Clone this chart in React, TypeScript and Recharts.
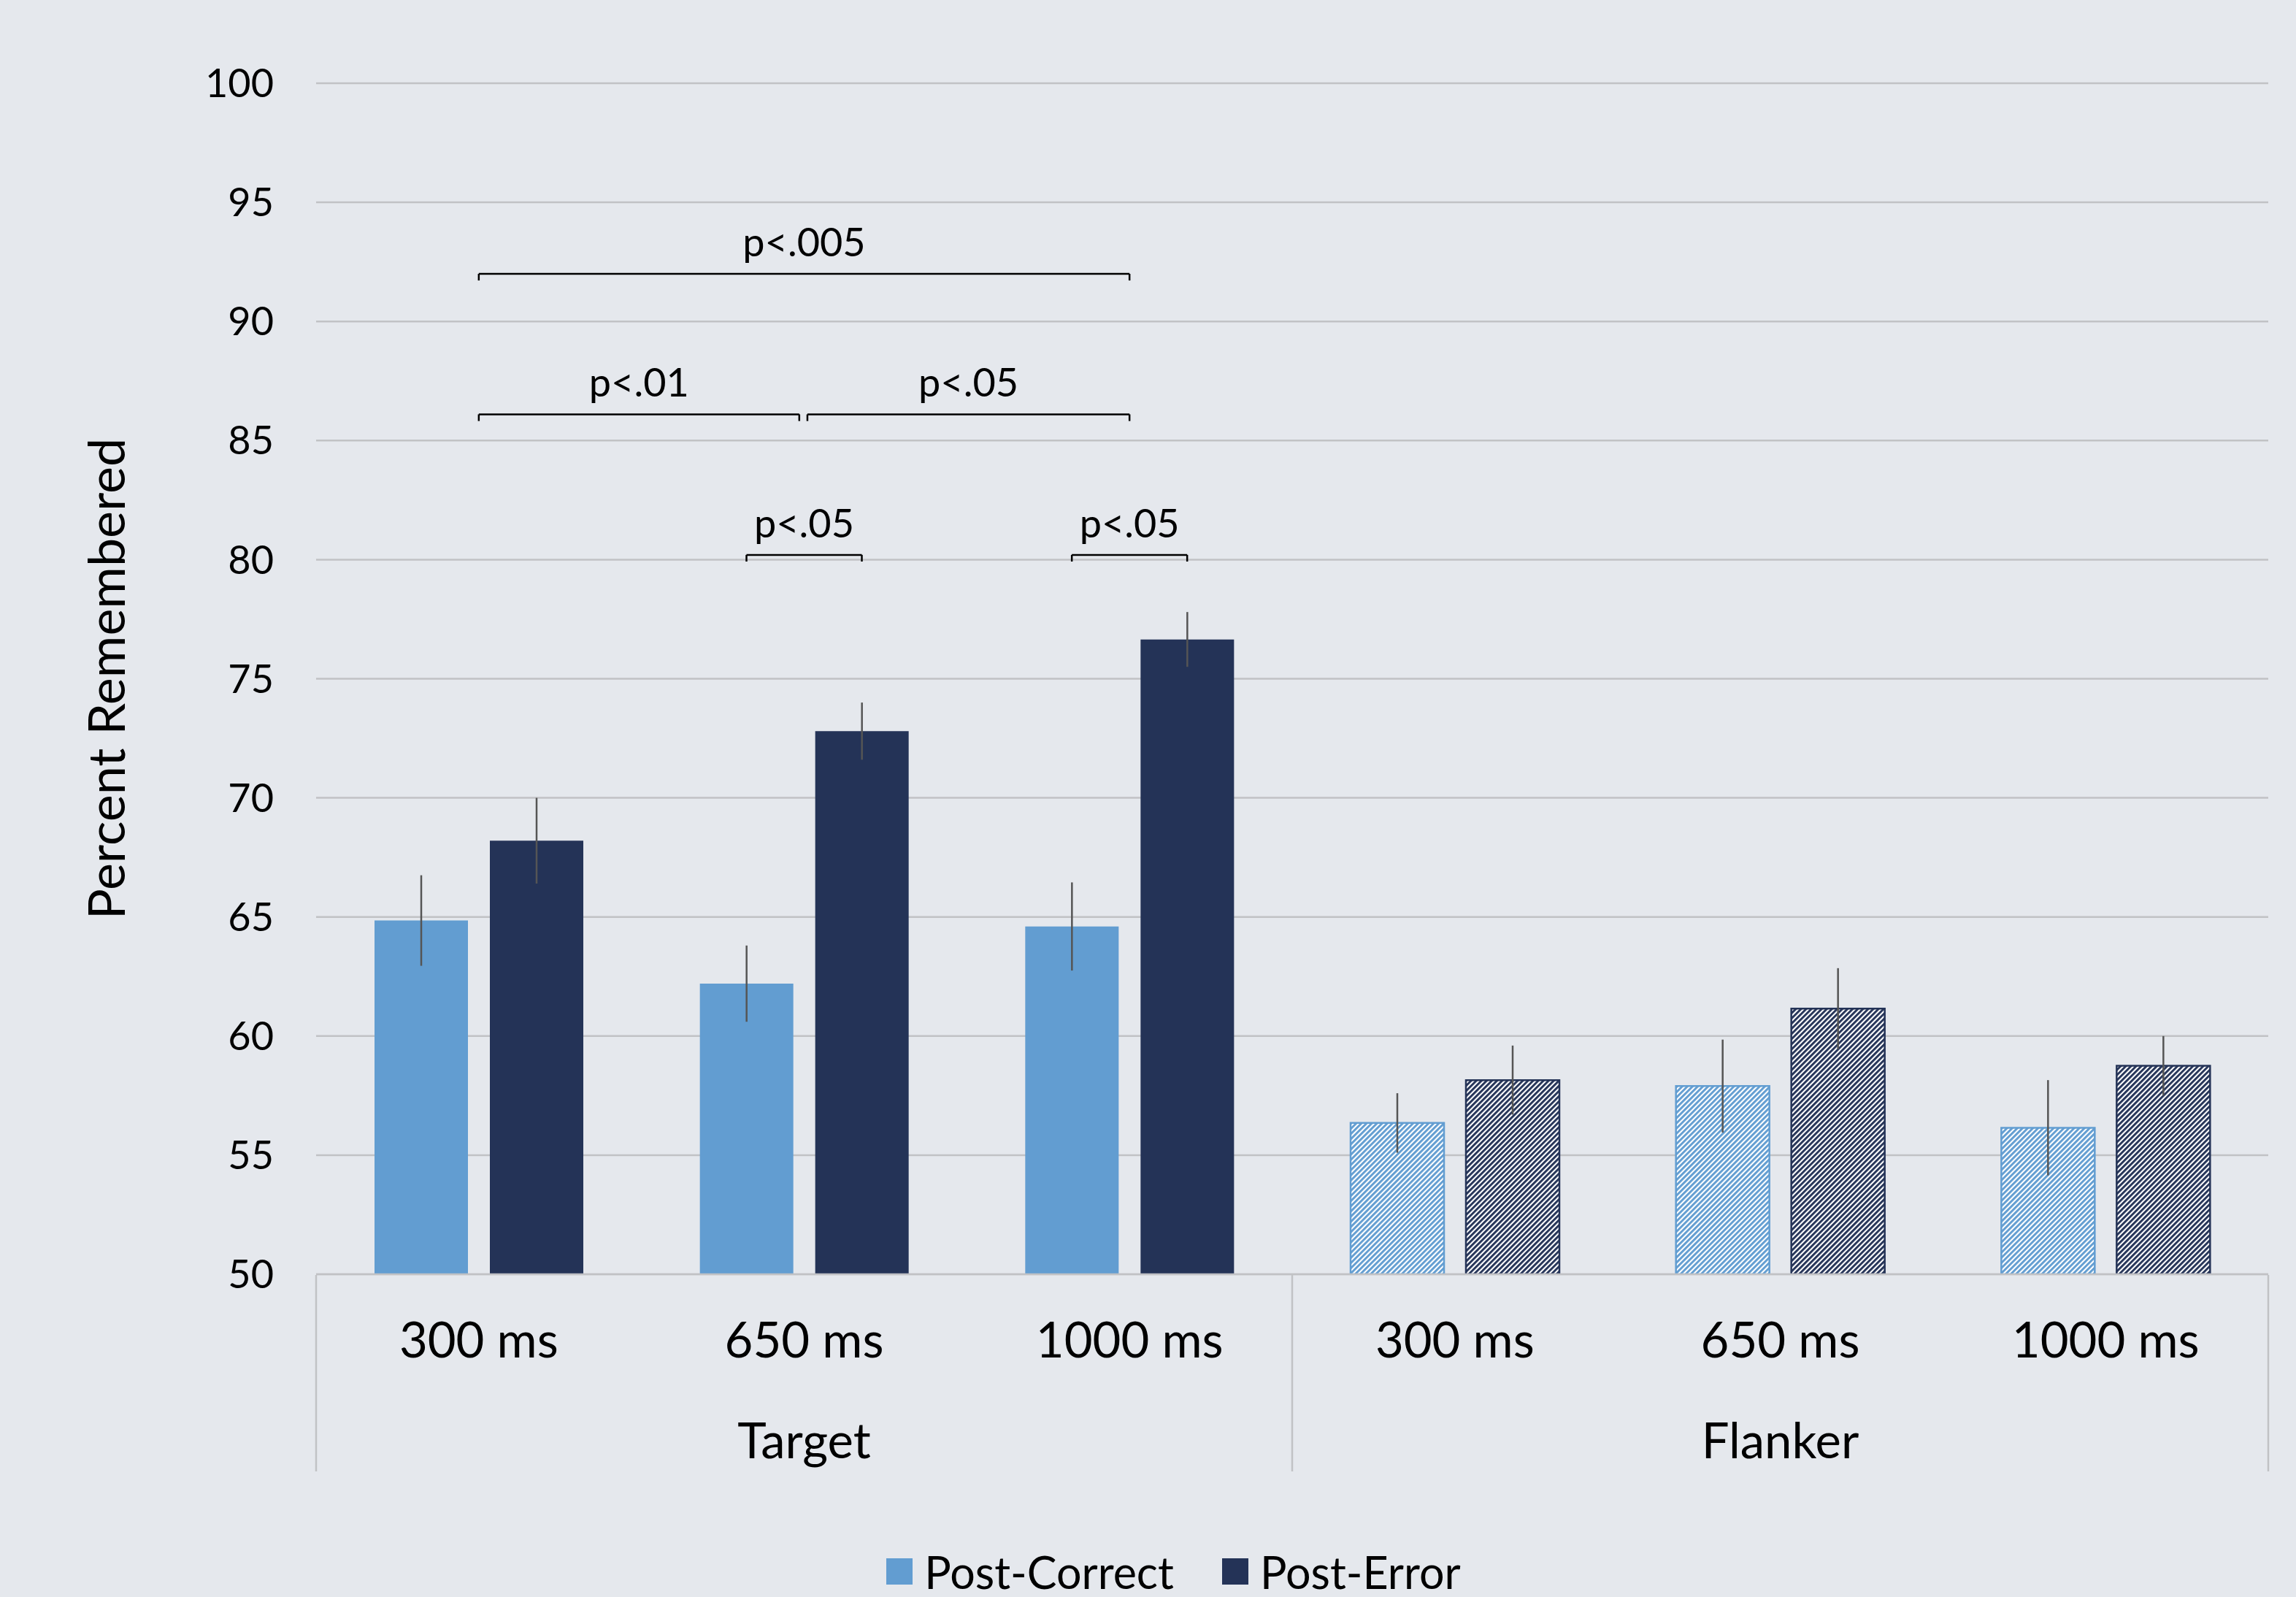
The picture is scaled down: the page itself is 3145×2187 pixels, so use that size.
import React from "react";
import {
  BarChart,
  Bar,
  XAxis,
  YAxis,
  CartesianGrid,
  ErrorBar,
  Cell,
  Legend,
  ReferenceLine,
} from "recharts";

document.body.style.margin = "0";

// ---- data ----
const conditions = ["300 ms", "650 ms", "1000 ms", "300 ms", "650 ms", "1000 ms"];
const groups = ["Target", "Target", "Target", "Flanker", "Flanker", "Flanker"];
const postCorrect = [64.85, 62.2, 64.6, 56.35, 57.9, 56.15];
const postCorrectErr = [1.9, 1.6, 1.85, 1.25, 1.95, 2.0];
const postError = [68.2, 72.8, 76.65, 58.15, 61.15, 58.75];
const postErrorErr = [1.8, 1.2, 1.15, 1.45, 1.7, 1.25];
const hatched = [false, false, false, true, true, true];
const yTicks = [50, 55, 60, 65, 70, 75, 80, 85, 90, 95, 100];

// ---- layout ----
const W = 3145;
const H = 2187;
const M = { top: 114, right: 38, left: 0, bottom: 0 };
const Y_AXIS_W = 433;
const SUB_AXIS_H = 160;
const GROUP_AXIS_H = 192;
const LEGEND_H = 90;
const PLOT_W = W - M.left - M.right - Y_AXIS_W;
const CAT_W = PLOT_W / conditions.length;
const PLOT_BOTTOM = H - M.bottom - LEGEND_H - GROUP_AXIS_H - SUB_AXIS_H;
const BAR_SIZE = 128;
const BAR_GAP = 30;
// distance from category centre to a bar centre, in category units
const BAR_OFF = (BAR_SIZE + BAR_GAP) / 2 / CAT_W;
const BRACKET_TICK = 0.28;

// significance brackets: x in category index units (0 = first category centre), y in percent
const brackets = [
  { from: 0, to: 2, y: 92, text: "p<.005" },
  { from: 0, to: 0.985, y: 86.1, text: "p<.01" },
  { from: 1.01, to: 2, y: 86.1, text: "p<.05" },
  { from: 1 - BAR_OFF, to: 1 + BAR_OFF, y: 80.2, text: "p<.05" },
  { from: 2 - BAR_OFF, to: 2 + BAR_OFF, y: 80.2, text: "p<.05" },
];

const LIGHT = "#629dd1";
const DARK = "#243357";
const BG = "#e5e8ed";
const GRID = "#c1c2c5";
const ERR = "#555555";
const TEXT = "#000000";
const FONT = "Lato, 'Open Sans', sans-serif";

const data = conditions.map((c, i) => ({
  slot: i,
  cond: c,
  group: groups[i],
  pc: postCorrect[i],
  pcErr: postCorrectErr[i],
  pe: postError[i],
  peErr: postErrorErr[i],
}));

function GroupTick(props: any) {
  const { x, payload, index } = props;
  const half = PLOT_W / 4; // a group spans half of the plot
  const lineProps = { y1: PLOT_BOTTOM + 1, y2: 2015, stroke: GRID, strokeWidth: 2.5 };
  return (
    <g>
      {index === 0 ? <line x1={x - half} x2={x - half} {...lineProps} /> : null}
      <line x1={x + half} x2={x + half} {...lineProps} />
      <text x={x} y={1997} textAnchor="middle" fontSize={67} fill={TEXT}>
        {payload.value}
      </text>
    </g>
  );
}

function YTitle(props: any) {
  const vb = props.viewBox || {};
  const cx = 144;
  const cy = vb.y + vb.height / 2;
  return (
    <text
      x={cx}
      y={cy}
      transform={`rotate(-90, ${cx}, ${cy})`}
      textAnchor="middle"
      dominantBaseline="central"
      fontSize={70}
      fill={TEXT}
    >
      Percent Remembered
    </text>
  );
}

function LegendBox(props: any) {
  const payload: any[] = props.payload || [];
  return (
    <div
      style={{
        height: LEGEND_H,
        display: "flex",
        justifyContent: "center",
        alignItems: "center",
        paddingLeft: 70,
        paddingTop: 20,
        boxSizing: "border-box",
        fontFamily: FONT,
        fontSize: 61,
        color: TEXT,
      }}
    >
      {payload.map((p) => (
        <div key={p.value} style={{ display: "flex", alignItems: "center", margin: "0 33px" }}>
          <div style={{ width: 36, height: 36, background: p.color, marginRight: 16 }} />
          <span style={{ lineHeight: 1 }}>{p.value}</span>
        </div>
      ))}
    </div>
  );
}

export default function App() {
  return (
    <div style={{ width: W, height: H, background: BG, overflow: "hidden", fontFamily: FONT }}>
      <BarChart width={W} height={H} data={data} margin={M} barGap={BAR_GAP}>
        <defs>
          <pattern id="hatchLight" width={5} height={5} patternUnits="userSpaceOnUse" patternTransform="rotate(45)">
            <rect width={5} height={5} fill="#ffffff" />
            <rect width={2.9} height={5} fill={LIGHT} />
          </pattern>
          <pattern id="hatchDark" width={5} height={5} patternUnits="userSpaceOnUse" patternTransform="rotate(45)">
            <rect width={5} height={5} fill="#ffffff" />
            <rect width={2.9} height={5} fill={DARK} />
          </pattern>
        </defs>
        <CartesianGrid vertical={false} stroke={GRID} strokeWidth={2.5} />
        <XAxis
          dataKey="cond"
          height={SUB_AXIS_H}
          interval={0}
          tickLine={false}
          tickSize={0}
          tickMargin={66}
          axisLine={{ stroke: GRID, strokeWidth: 2.5 }}
          tick={{ fontSize: 67, fill: TEXT }}
        />
        <XAxis
          xAxisId="grp"
          dataKey="group"
          allowDuplicatedCategory={false}
          height={GROUP_AXIS_H}
          interval={0}
          axisLine={false}
          tickLine={false}
          tick={<GroupTick />}
        />
        {/* hidden linear axis over category indexes, padded so index i sits at category centre i */}
        <XAxis
          xAxisId="n"
          dataKey="slot"
          type="number"
          domain={[0, conditions.length - 1]}
          padding={{ left: CAT_W / 2, right: CAT_W / 2 }}
          hide
        />
        <YAxis
          width={Y_AXIS_W}
          domain={[50, 100]}
          ticks={yTicks}
          allowDataOverflow
          axisLine={false}
          tickLine={false}
          tickSize={0}
          tickMargin={58}
          tick={{ fontSize: 54, fill: TEXT }}
          label={<YTitle />}
        />
        <Legend
          verticalAlign="bottom"
          wrapperStyle={{ left: 0, width: W, bottom: 0 }}
          content={<LegendBox />}
        />
        <Bar dataKey="pc" name="Post-Correct" fill={LIGHT} barSize={BAR_SIZE} isAnimationActive={false}>
          {data.map((d, i) => (
            <Cell
              key={i}
              fill={hatched[i] ? "url(#hatchLight)" : LIGHT}
              stroke={hatched[i] ? LIGHT : "none"}
              strokeWidth={hatched[i] ? 2.5 : 0}
            />
          ))}
          <ErrorBar dataKey="pcErr" width={0} stroke={ERR} strokeWidth={2.5} direction="y" />
        </Bar>
        <Bar dataKey="pe" name="Post-Error" fill={DARK} barSize={BAR_SIZE} isAnimationActive={false}>
          {data.map((d, i) => (
            <Cell
              key={i}
              fill={hatched[i] ? "url(#hatchDark)" : DARK}
              stroke={hatched[i] ? DARK : "none"}
              strokeWidth={hatched[i] ? 2.5 : 0}
            />
          ))}
          <ErrorBar dataKey="peErr" width={0} stroke={ERR} strokeWidth={2.5} direction="y" />
        </Bar>
        {brackets.flatMap((b, i) => [
          <ReferenceLine
            key={`h${i}`}
            xAxisId="n"
            segment={[
              { x: b.from, y: b.y },
              { x: b.to, y: b.y },
            ]}
            stroke={TEXT}
            strokeWidth={2.5}
            label={{ value: b.text, position: "top", offset: 24, fontSize: 54, fill: TEXT }}
          />,
          <ReferenceLine
            key={`l${i}`}
            xAxisId="n"
            segment={[
              { x: b.from, y: b.y },
              { x: b.from, y: b.y - BRACKET_TICK },
            ]}
            stroke={TEXT}
            strokeWidth={2.5}
          />,
          <ReferenceLine
            key={`r${i}`}
            xAxisId="n"
            segment={[
              { x: b.to, y: b.y },
              { x: b.to, y: b.y - BRACKET_TICK },
            ]}
            stroke={TEXT}
            strokeWidth={2.5}
          />,
        ])}
      </BarChart>
    </div>
  );
}
